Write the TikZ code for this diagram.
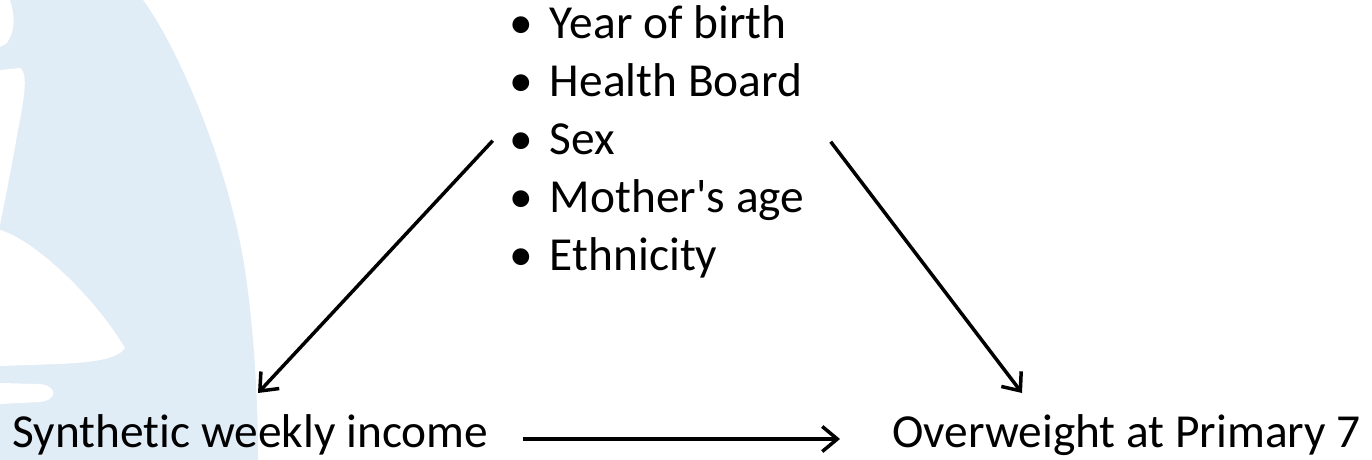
\documentclass[tikz,border=0pt]{standalone}
\usepackage{fontspec}
\setmainfont{Carlito}
\newfontfamily\calibrifont{Carlito}[Ligatures=NoCommon]
\usetikzlibrary{arrows.meta}
\definecolor{logoblue}{RGB}{224,236,246}
\tikzset{
  lbl/.style={inner sep=0pt, outer sep=0pt, anchor=base west, font=\calibrifont\fontsize{47.4}{58}\selectfont},
  conn/.style={line width=3.5pt, -{Straight Barb[length=15pt,width=25pt,line width=3.5pt]}},
}
\begin{document}
\begin{tikzpicture}[x=1pt,y=-1pt]
\useasboundingbox (0,0) rectangle (1372,460);
% watermark logo
\fill[logoblue] (0,0) -- (143,0) .. controls (175,43) and (228,160) .. (245,270)
   .. controls (254,330) and (258,400) .. (258,460) -- (0,460) -- cycle;
\fill[white] (0,0) -- (10,0) .. controls (14,12) and (17,30) .. (6,44) -- (0,47) -- cycle;
\fill[white] (0,70) -- (20,68) .. controls (28,72) and (25,95) .. (18,130)
   .. controls (12,165) and (5,200) .. (0,225) -- cycle;
\fill[white] (0,230) .. controls (30,238) and (90,290) .. (125,348)
   .. controls (118,358) and (100,362) .. (60,364) -- (0,366) -- cycle;
\fill[white] (0,383) -- (40,384) .. controls (58,386) and (58,400) .. (40,402) -- (0,404) -- cycle;
% texts
\node[lbl] (income) at (12.5,447.5) {Synthetic weekly income};
\node[lbl] (overw) at (892.5,447.5) {Overweight at Primary 7};
\node[lbl] (c1) at (509,38.3) {\makebox[24pt][c]{•}\makebox[17pt]{}Year of birth};
\node[lbl] (c2) at (509,96.3) {\makebox[24pt][c]{•}\makebox[17pt]{}Health Board};
\node[lbl] (c3) at (509,154.3) {\makebox[24pt][c]{•}\makebox[17pt]{}Sex};
\node[lbl] (c4) at (509,212.3) {\makebox[24pt][c]{•}\makebox[17pt]{}Mother's age};
\node[lbl] (c5) at (509,270.3) {\makebox[24pt][c]{•}\makebox[17pt]{}Ethnicity};
% connector anchors
\coordinate (sl) at (492.7,140.7);
\coordinate (sr) at (830.7,141.7);
\coordinate (tl) at (258,393);
\coordinate (tr) at (1022,393);
\coordinate (hs) at (523,439);
\coordinate (he) at (840,439);
\draw[conn] (sl) -- (tl);
\draw[conn] (sr) -- (tr);
\draw[conn] (hs) -- (he);
\end{tikzpicture}
\end{document}
